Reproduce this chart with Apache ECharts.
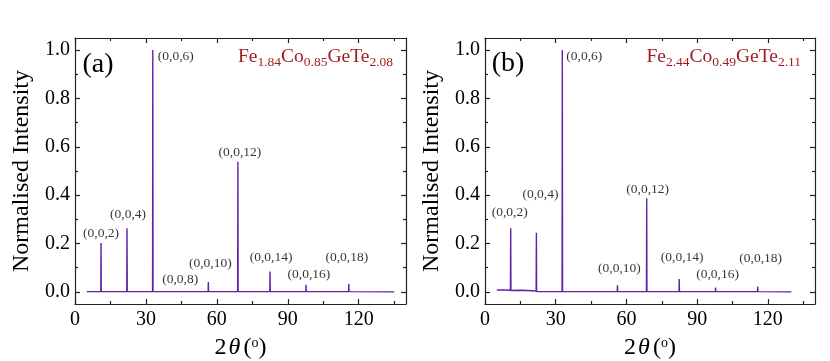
<!DOCTYPE html>
<html><head><meta charset="utf-8">
<script src="https://cdn.jsdelivr.net/npm/echarts@6/dist/echarts.min.js"></script>
<style>html,body{margin:0;padding:0;background:#fff}#c{width:830px;height:361px}</style>
</head><body><div id="c"></div>
<script>
// ---------- data ----------
const xTicks = [0, 30, 60, 90, 120];
const xMinorTicks = [15, 45, 75, 105, 135];
const yTicks = [0.0, 0.2, 0.4, 0.6, 0.8, 1.0];
const yMinorTicks = [0.1, 0.3, 0.5, 0.7, 0.9];

// pattern (a): Fe1.84Co0.85GeTe2.08  [2theta, normalised intensity]
const patternA = [
  [5, 0.001], [10.9, 0.001], [11.0, 0.202], [11.1, 0.001],
  [21.9, 0.001], [22.0, 0.263], [22.1, 0.001],
  [32.8, 0.002], [32.9, 1.0], [33.0, 0.002],
  [44.4, 0.001], [44.5, 0.006], [44.6, 0.001],
  [56.3, 0.001], [56.4, 0.041], [56.5, 0.001],
  [68.8, 0.002], [68.9, 0.538], [69.0, 0.002],
  [82.4, 0.001], [82.5, 0.084], [82.6, 0.001],
  [97.6, 0.001], [97.7, 0.029], [97.8, 0.001],
  [115.7, 0.001], [115.8, 0.033], [115.9, 0.001],
  [135, 0.0]
];
// pattern (b): Fe2.44Co0.49GeTe2.11
const patternB = [
  [5, 0.008], [8, 0.008], [10.8, 0.007], [10.9, 0.263], [11.0, 0.006],
  [15, 0.007], [18, 0.006], [21.7, 0.004], [21.8, 0.245], [21.9, 0.002],
  [32.7, 0.001], [32.8, 1.0], [32.9, 0.001],
  [56.1, 0.001], [56.2, 0.027], [56.3, 0.001],
  [68.5, 0.001], [68.6, 0.387], [68.7, 0.001],
  [82.3, 0.001], [82.4, 0.053], [82.5, 0.001],
  [97.7, 0.001], [97.8, 0.018], [97.9, 0.001],
  [115.6, 0.001], [115.7, 0.022], [115.8, 0.001],
  [130, 0.0]
];

const peakNamesA = ['(0,0,2)', '(0,0,4)', '(0,0,6)', '(0,0,8)', '(0,0,10)', '(0,0,12)', '(0,0,14)', '(0,0,16)', '(0,0,18)'];
const peakXA = [11.0, 22.0, 32.9, 44.5, 56.4, 68.9, 82.5, 97.7, 115.8];
const peakYA = [0.202, 0.263, 1.0, 0.006, 0.041, 0.538, 0.084, 0.029, 0.033];

const peakNamesB = ['(0,0,2)', '(0,0,4)', '(0,0,6)', '(0,0,10)', '(0,0,12)', '(0,0,14)', '(0,0,16)', '(0,0,18)'];
const peakXB = [10.9, 21.8, 32.8, 56.2, 68.6, 82.4, 97.8, 115.7];
const peakYB = [0.263, 0.245, 1.0, 0.027, 0.387, 0.053, 0.018, 0.022];

const panelTags = ['(a)', '(b)'];

// ---------- style ----------
const labelOffsetsA = [[0, -10], [1, -14], [23, 6], [0, -11], [2, -19], [2, -9], [1, -14], [3, -10], [-2, -26]];
const labelOffsetsB = [[-1, -16], [4, -38], [22, 6], [2, -17], [1, -9], [3, -22], [2, -13], [3, -28]];

const FONT = 'Liberation Serif, Times New Roman, serif';
const AX = '#222';
const LINE = '#5D22A8';
const RED = '#9E1B1B';

const chart = echarts.init(document.getElementById('c'), null, {renderer: 'canvas'});

const grids = [], xAxes = [], yAxes = [], series = [];

function panel(p, left, width, data, names, px, py, offs) {
  const gMain = grids.length;
  const g = {left: left, top: 38, width: width, height: 266, containLabel: false, outerBoundsMode: 'none'};
  grids.push(Object.assign({}, g));
  grids.push(Object.assign({}, g));
  const gMin = gMain + 1;
  const lineStyle = {color: AX, width: 1.2};
  const xBase = {type: 'value', min: 0, max: 140, splitLine: {show: false}};
  const yBase = {type: 'value', min: -0.05, max: 1.05, splitLine: {show: false}};
  const xi = xAxes.length;
  xAxes.push(Object.assign({}, xBase, {
    gridIndex: gMain, position: 'bottom',
    axisLine: {show: true, onZero: false, lineStyle},
    axisTick: {show: true, inside: true, length: 5, customValues: xTicks, lineStyle},
    axisLabel: {show: true, customValues: xTicks, fontFamily: FONT, fontSize: 20, color: '#000', margin: 6},
    name: '{n|2}{i|θ}{n|(}{s|o}{n|)}', nameLocation: 'middle', nameGap: 32,
    nameTextStyle: {rich: {
      n: {fontFamily: FONT, fontSize: 24, color: '#000'},
      i: {fontFamily: FONT, fontSize: 24, fontStyle: 'italic', color: '#000', padding: [0, 3, 0, 2]},
      s: {fontFamily: FONT, fontSize: 14, color: '#000', padding: [0, 0, 10, 0]}
    }}
  }));
  xAxes.push(Object.assign({}, xBase, {
    gridIndex: gMain, position: 'top',
    axisLine: {show: true, onZero: false, lineStyle},
    axisTick: {show: true, inside: true, length: 5, customValues: xTicks, lineStyle},
    axisLabel: {show: false}
  }));
  xAxes.push(Object.assign({}, xBase, {
    gridIndex: gMin, position: 'bottom',
    axisLine: {show: false, onZero: false},
    axisTick: {show: true, inside: true, length: 3, customValues: xMinorTicks, lineStyle},
    axisLabel: {show: false}
  }));
  xAxes.push(Object.assign({}, xBase, {
    gridIndex: gMin, position: 'top',
    axisLine: {show: false, onZero: false},
    axisTick: {show: true, inside: true, length: 3, customValues: xMinorTicks, lineStyle},
    axisLabel: {show: false}
  }));
  const yi = yAxes.length;
  yAxes.push(Object.assign({}, yBase, {
    gridIndex: gMain, position: 'left',
    axisLine: {show: true, onZero: false, lineStyle},
    axisTick: {show: true, inside: true, length: 5, customValues: yTicks, lineStyle},
    axisLabel: {show: true, customValues: yTicks, fontFamily: FONT, fontSize: 20, color: '#000', margin: 5,
      formatter: v => Number(v).toFixed(1)},
    name: 'Normalised Intensity', nameLocation: 'middle', nameGap: 41,
    nameTextStyle: {fontFamily: FONT, fontSize: 24, color: '#000'}
  }));
  yAxes.push(Object.assign({}, yBase, {
    gridIndex: gMain, position: 'right',
    axisLine: {show: true, onZero: false, lineStyle},
    axisTick: {show: true, inside: true, length: 5, customValues: yTicks, lineStyle},
    axisLabel: {show: false}
  }));
  yAxes.push(Object.assign({}, yBase, {
    gridIndex: gMin, position: 'left',
    axisLine: {show: false, onZero: false},
    axisTick: {show: true, inside: true, length: 3, customValues: yMinorTicks, lineStyle},
    axisLabel: {show: false}
  }));
  yAxes.push(Object.assign({}, yBase, {
    gridIndex: gMin, position: 'right',
    axisLine: {show: false, onZero: false},
    axisTick: {show: true, inside: true, length: 3, customValues: yMinorTicks, lineStyle},
    axisLabel: {show: false}
  }));
  series.push({
    type: 'line', xAxisIndex: xi, yAxisIndex: yi, data: data,
    showSymbol: false, symbol: 'none', lineStyle: {color: LINE, width: 1.4}, z: 3
  });
  series.push({
    type: 'scatter', xAxisIndex: xi, yAxisIndex: yi, symbolSize: 1,
    itemStyle: {color: 'rgba(0,0,0,0)'},
    data: names.map((n, k) => ({name: n, value: [px[k], py[k]], label: {offset: offs[k]}})),
    label: {show: true, position: 'inside', formatter: '{b}', fontFamily: FONT, fontSize: 13.5, color: '#000'},
    z: 5
  });
}

panel(0, 75, 331, patternA, peakNamesA, peakXA, peakYA, labelOffsetsA);
panel(1, 485, 330, patternB, peakNamesB, peakXB, peakYB, labelOffsetsB);

function formula(parts) {
  return parts.map((t, k) => (k % 2 === 0 ? '{m|' : '{s|') + t + '}').join('');
}
const richF = {
  m: {fontFamily: FONT, fontSize: 19.5, fill: RED},
  s: {fontFamily: FONT, fontSize: 13.5, fill: RED, padding: [10, 0, 0, 0]}
};

const option = {
  animation: false,
  backgroundColor: '#fff',
  grid: grids, xAxis: xAxes, yAxis: yAxes, series: series,
  graphic: [
    {type: 'text', x: 98, y: 65, style: {text: panelTags[0], font: '28px ' + FONT, fill: '#000', textAlign: 'center', textVerticalAlign: 'middle'}},
    {type: 'text', x: 508, y: 64, style: {text: panelTags[1], font: '28px ' + FONT, fill: '#000', textAlign: 'center', textVerticalAlign: 'middle'}},
    {type: 'text', x: 393, y: 57, style: {text: formula(['Fe', '1.84', 'Co', '0.85', 'GeTe', '2.08']), rich: richF, textAlign: 'right', textVerticalAlign: 'middle'}},
    {type: 'text', x: 801, y: 57, style: {text: formula(['Fe', '2.44', 'Co', '0.49', 'GeTe', '2.11']), rich: richF, textAlign: 'right', textVerticalAlign: 'middle'}}
  ]
};
chart.setOption(option);
</script>
</body></html>
